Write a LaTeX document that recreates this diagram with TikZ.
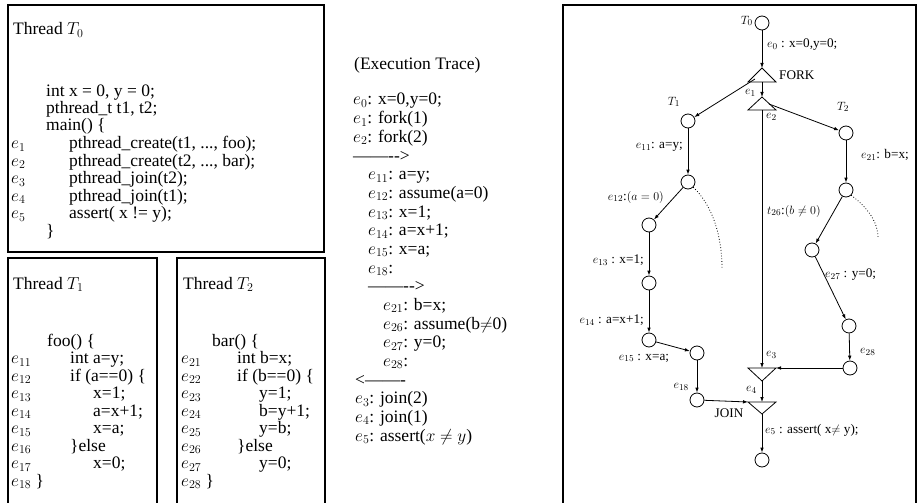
\documentclass[tikz,border=0pt]{standalone}
\usepackage{fontspec}
\setmainfont{Liberation Serif}
\usetikzlibrary{arrows.meta}
\begin{document}
\begin{tikzpicture}[x=1pt,y=-1pt,
  code/.style={anchor=base west, inner sep=0pt, font=\fontsize{17.5}{18}\selectfont},
  glabel/.style={inner sep=0pt, font=\fontsize{13.2}{14}\selectfont},
  frame/.style={draw, line width=1.8pt},
  st/.style={draw, circle, minimum size=14pt, inner sep=0pt, line width=0.8pt},
  edge/.style={line width=0.8pt, -{Latex[length=5pt,width=3.6pt]}},
  tri/.style={draw, line width=0.8pt},
  dots/.style={dotted, line width=0.8pt}
]
\useasboundingbox (0,0) rectangle (922,503);

% ---------------- Thread T0 box ----------------
\draw[frame] (8,5) rectangle (324,252);
\node[code] (t0h) at (13,35) {Thread $T_0$};
\node[code] (t0a) at (46,96) {int x = 0, y = 0;};
\node[code] (t0b) at (46,113.5) {pthread\_t t1, t2;};
\node[code] (t0c) at (46,131) {main() \{};
\node[code] (t0e1) at (11,148.5) {$e_1$};
\node[code] (t0l1) at (69,148.5) {pthread\_create(t1, ..., foo);};
\node[code] (t0e2) at (11,166) {$e_2$};
\node[code] (t0l2) at (69,166) {pthread\_create(t2, ..., bar);};
\node[code] (t0e3) at (11,183.5) {$e_3$};
\node[code] (t0l3) at (69,183.5) {pthread\_join(t2);};
\node[code] (t0e4) at (11,201) {$e_4$};
\node[code] (t0l4) at (69,201) {pthread\_join(t1);};
\node[code] (t0e5) at (11,218.5) {$e_5$};
\node[code] (t0l5) at (69,218.5) {assert( x != y);};
\node[code] (t0z) at (46,236) {\}};

% ---------------- Thread T1 box ----------------
\draw[frame] (8,515) -- (8,258) -- (157,258) -- (157,515);
\node[code] (t1h) at (13,289) {Thread $T_1$};
\node[code] (t1a) at (47,346) {foo() \{};
\node[code] (t1e11) at (11,363.5) {$e_{11}$};
\node[code] (t1l11) at (70,363.5) {int a=y;};
\node[code] (t1e12) at (11,381) {$e_{12}$};
\node[code] (t1l12) at (70,381) {if (a==0) \{};
\node[code] (t1e13) at (11,398.5) {$e_{13}$};
\node[code] (t1l13) at (93,398.5) {x=1;};
\node[code] (t1e14) at (11,416) {$e_{14}$};
\node[code] (t1l14) at (93,416) {a=x+1;};
\node[code] (t1e15) at (11,433.5) {$e_{15}$};
\node[code] (t1l15) at (93,433.5) {x=a;};
\node[code] (t1e16) at (11,451) {$e_{16}$};
\node[code] (t1l16) at (70,451) {\}else};
\node[code] (t1e17) at (11,468.5) {$e_{17}$};
\node[code] (t1l17) at (93,468.5) {x=0;};
\node[code] (t1e18) at (11,486) {$e_{18}$ \}};

% ---------------- Thread T2 box ----------------
\draw[frame] (177,515) -- (177,258) -- (325,258) -- (325,515);
\node[code] (t2h) at (183,289) {Thread $T_2$};
\node[code] (t2a) at (212,346) {bar() \{};
\node[code] (t2e21) at (181,363.5) {$e_{21}$};
\node[code] (t2l21) at (237,363.5) {int b=x;};
\node[code] (t2e22) at (181,381) {$e_{22}$};
\node[code] (t2l22) at (237,381) {if (b==0) \{};
\node[code] (t2e23) at (181,398.5) {$e_{23}$};
\node[code] (t2l23) at (259,398.5) {y=1;};
\node[code] (t2e24) at (181,416) {$e_{24}$};
\node[code] (t2l24) at (259,416) {b=y+1;};
\node[code] (t2e25) at (181,433.5) {$e_{25}$};
\node[code] (t2l25) at (259,433.5) {y=b;};
\node[code] (t2e26) at (181,451) {$e_{26}$};
\node[code] (t2l26) at (237,451) {\}else};
\node[code] (t2e27) at (181,468.5) {$e_{27}$};
\node[code] (t2l27) at (259,468.5) {y=0;};
\node[code] (t2e28) at (181,486) {$e_{28}$ \}};

% ---------------- Execution trace ----------------
\node[code] (xh) at (354,70) {(Execution Trace)};
\node[code] (x0) at (353,105) {$e_0$: x=0,y=0;};
\node[code] (x1) at (353,123.7) {$e_1$: fork(1)};
\node[code] (x2) at (353,142.3) {$e_2$: fork(2)};
\node[code] (xa1) at (353,161) {------{}-{}->};
\node[code] (x11) at (368,179.7) {$e_{11}$: a=y;};
\node[code] (x12) at (368,198.3) {$e_{12}$: assume(a=0)};
\node[code] (x13) at (368,217) {$e_{13}$: x=1;};
\node[code] (x14) at (368,235.7) {$e_{14}$: a=x+1;};
\node[code] (x15) at (368,254.3) {$e_{15}$: x=a;};
\node[code] (x18) at (368,273) {$e_{18}$:};
\node[code] (xa2) at (368,291.7) {------{}-{}->};
\node[code] (x21) at (383,310.3) {$e_{21}$: b=x;};
\node[code] (x26) at (383,329) {$e_{26}$: assume(b$\neq$0)};
\node[code] (x27) at (383,347.7) {$e_{27}$: y=0;};
\node[code] (x28) at (383,366.3) {$e_{28}$:};
\node[code] (xa3) at (355,385) {<------{}-};
\node[code] (x3) at (355,403.7) {$e_3$: join(2)};
\node[code] (x4) at (355,422.3) {$e_4$: join(1)};
\node[code] (x5) at (355,441) {$e_5$: assert($x \neq y$)};

% ---------------- Graph ----------------
\draw[frame] (563,515) -- (563,5) -- (916,5) -- (916,515);

% triangles
\coordinate (fkA) at (762,68); \coordinate (fkL) at (748,82); \coordinate (fkR) at (776,82);
\coordinate (fkB) at (762,82); \coordinate (fkO) at (755,79);
\draw[tri] (fkA) -- (fkL) -- (fkR) -- cycle;
\coordinate (tbA) at (762,97); \coordinate (tbL) at (748,110); \coordinate (tbR) at (776,110);
\coordinate (tbB) at (762,110); \coordinate (tbO) at (769,104);
\draw[tri] (tbA) -- (tbL) -- (tbR) -- cycle;
\coordinate (jaL) at (748,368); \coordinate (jaR) at (776,368); \coordinate (jaA) at (762,381);
\coordinate (jaT) at (762,368);
\draw[tri] (jaL) -- (jaR) -- (jaA) -- cycle;
\coordinate (jbL) at (748,402); \coordinate (jbR) at (776,402); \coordinate (jbA) at (762,414);
\coordinate (jbT) at (762,402);
\draw[tri] (jbL) -- (jbR) -- (jbA) -- cycle;

% states
\node[st] (g0) at (762,23) {};
\node[st] (a1) at (688,121) {};
\node[st] (a2) at (688,182) {};
\node[st] (a3) at (649,225) {};
\node[st] (a4) at (649,283) {};
\node[st] (a5) at (649,340) {};
\node[st] (a6) at (697,353) {};
\node[st] (a7) at (697,400) {};
\node[st] (b1) at (846,133) {};
\node[st] (b2) at (846,190) {};
\node[st] (b3) at (812,250) {};
\node[st] (b4) at (849,326) {};
\node[st] (b5) at (850,368) {};
\node[st] (gz) at (762,460) {};

% labels
\node[glabel, anchor=east] (lT0) at (753,21) {$T_0$};
\node[glabel, anchor=west] (le0) at (767,45) {$e_0$ : x=0,y=0;};
\node[glabel, anchor=west] (lfork) at (779,75) {FORK};
\node[glabel, anchor=east] (le1) at (756,93) {$e_1$};
\node[glabel, anchor=west] (le2) at (766,117) {$e_2$};
\node[glabel] (lT1) at (674,102) {$T_1$};
\node[glabel] (lT2) at (843,107) {$T_2$};
\node[glabel, anchor=east] (le11) at (683,147) {$e_{11}$: a=y;};
\node[glabel, anchor=east] (le12) at (664,197) {$e_{12}$:$(a=0)$};
\node[glabel, anchor=east] (le13) at (644,260) {$e_{13}$ : x=1;};
\node[glabel, anchor=east] (le14) at (644,320) {$e_{14}$ : a=x+1;};
\node[glabel] (le15) at (644,358) {$e_{15}$ : x=a;};
\node[glabel, anchor=east] (le18) at (689,387) {$e_{18}$};
\node[glabel] (ljoin) at (729,413) {JOIN};
\node[glabel, anchor=west] (le21) at (861,155) {$e_{21}$: b=x;};
\node[glabel, anchor=west] (lt26) at (767,211) {$t_{26}$:$(b\neq 0)$};
\node[glabel, anchor=west] (le27) at (825,275) {$e_{27}$ : y=0;};
\node[glabel, anchor=west] (le28) at (860,352) {$e_{28}$};
\node[glabel, anchor=west] (le3) at (766,355) {$e_3$};
\node[glabel, anchor=east] (le4) at (757,390) {$e_4$};
\node[glabel, anchor=west] (le5) at (765,430) {$e_5$ : assert( x$\neq$ y);};

% edges
\draw[edge] (g0) -- (fkA);
\draw[edge] (fkB) -- (tbA);
\draw[edge] (fkO) -- (a1);
\draw[edge] (tbO) -- (b1);
\draw[edge] (tbB) -- (jaT);
\draw[edge] (a1) -- (a2);
\draw[edge] (a2) -- (a3);
\draw[edge] (a3) -- (a4);
\draw[edge] (a4) -- (a5);
\draw[edge] (a5) -- (a6);
\draw[edge] (a6) -- (a7);
\draw[edge] (a7) -- (jbL);
\draw[edge] (b1) -- (b2);
\draw[edge] (b2) -- (b3);
\draw[edge] (b3) -- (b4);
\draw[edge] (b4) -- (b5);
\draw[edge] (b5) -- (jaR);
\draw[edge] (jaA) -- (jbT);
\draw[edge] (jbA) -- (gz);

% dotted branches
\coordinate (d1) at (722,268);
\coordinate (d2) at (878,238);
\draw[dots] (a2.south east) .. controls (712,205) and (722,235) .. (d1);
\draw[dots] (b2.south east) .. controls (868,208) and (878,222) .. (d2);
\end{tikzpicture}
\end{document}
